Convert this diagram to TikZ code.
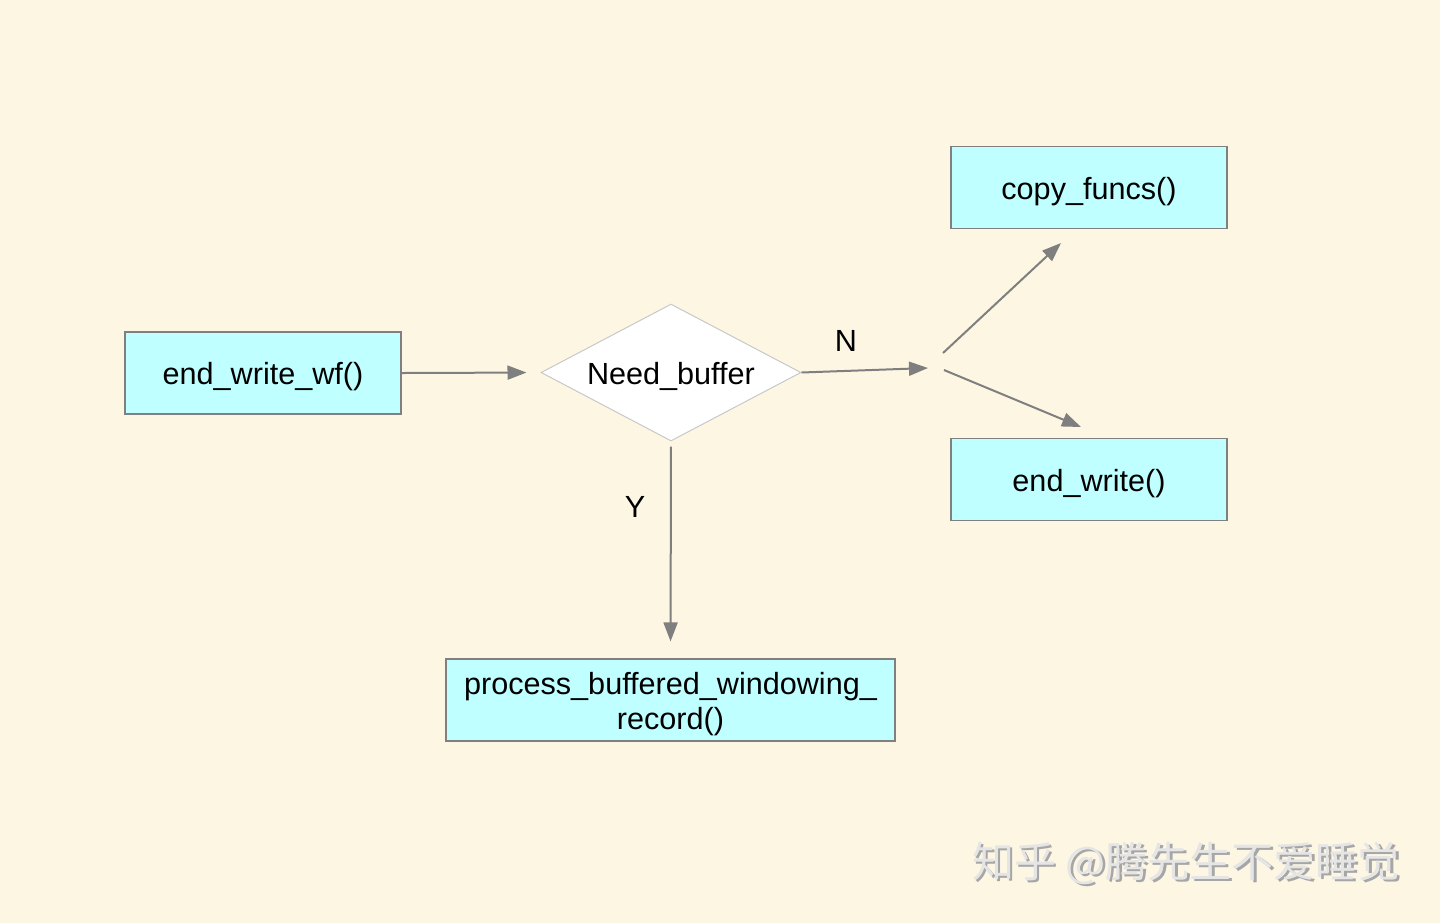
\documentclass[tikz,border=0pt]{standalone}
\usepackage{fontspec}
\setmainfont{Liberation Sans}
\newfontfamily\cjk{Noto Sans CJK SC}
\usetikzlibrary{shapes.geometric,arrows.meta}
\definecolor{bgc}{HTML}{FDF6E3}
\definecolor{boxfill}{HTML}{BFFFFF}
\definecolor{boxline}{HTML}{808080}
\definecolor{arrowc}{HTML}{7F7F7F}
\definecolor{diamline}{HTML}{C8C8C8}
\begin{document}
\begin{tikzpicture}[x=0.5pt,y=-0.5pt,
  txt/.style={font=\fontsize{15.3}{17.5}\selectfont},
  procbox/.style={txt,draw=boxline,line width=0.6pt,fill=boxfill,inner sep=0pt,
    minimum width=138pt,minimum height=41pt,align=center,
    text height=13pt,text depth=1.2pt},
  decision/.style={txt,diamond,aspect=1.9,draw=diamline,line width=0.5pt,fill=white,inner sep=0pt,
    minimum width=130pt,minimum height=68.5pt,text height=13pt,text depth=1.2pt},
  flow/.style={draw=arrowc,line width=1pt,-{Triangle[length=9.5pt,width=7pt]}},
  lbl/.style={txt,inner sep=0pt},
  wm/.style={font=\cjk\fontsize{21}{24}\selectfont,inner sep=0pt}]
\fill[bgc] (0,0) rectangle (1440,923);
\useasboundingbox (0,0) rectangle (1440,923);
\node[procbox] (ewwf) at (263,373) {end\_write\_wf()};
\node[decision] (need) at (671,372.5) {Need\_buffer};
\node[procbox] (copy) at (1089,187.5) {copy\_funcs()};
\node[procbox] (ew) at (1089,479.5) {end\_write()};
\node[draw=boxline,line width=0.6pt,fill=boxfill,inner sep=0pt,
  minimum width=224.5pt,minimum height=41pt] (proc) at (670.5,700) {};
\node[txt,align=center,inner sep=0pt] (proctext) at (670.5,704)
  {process\_buffered\_windowing\_\\record()};
\coordinate (nend) at (928,368);
\coordinate (upS) at (943,353);
\coordinate (upE) at (1061,243);
\coordinate (dnS) at (944,370);
\coordinate (dnE) at (1081,427);
\draw[flow,shorten >=7pt] (ewwf.east) -- (need.west);
\draw[flow] (need.east) -- (nend);
\draw[flow] (upS) -- (upE);
\draw[flow] (dnS) -- (dnE);
\draw[flow,shorten <=2.5pt,shorten >=8.5pt] (need.south) -- (proc.north);
\node[lbl] (nlab) at (846,341) {N};
\node[lbl] (ylab) at (635,507) {Y};
\node[wm,text=black!35] (wmshadow) at (1188.5,865.5) {知乎 @腾先生不爱睡觉};
\node[wm,text=white!90!black] (wmark) at (1186,863) {知乎 @腾先生不爱睡觉};
\end{tikzpicture}
\end{document}
